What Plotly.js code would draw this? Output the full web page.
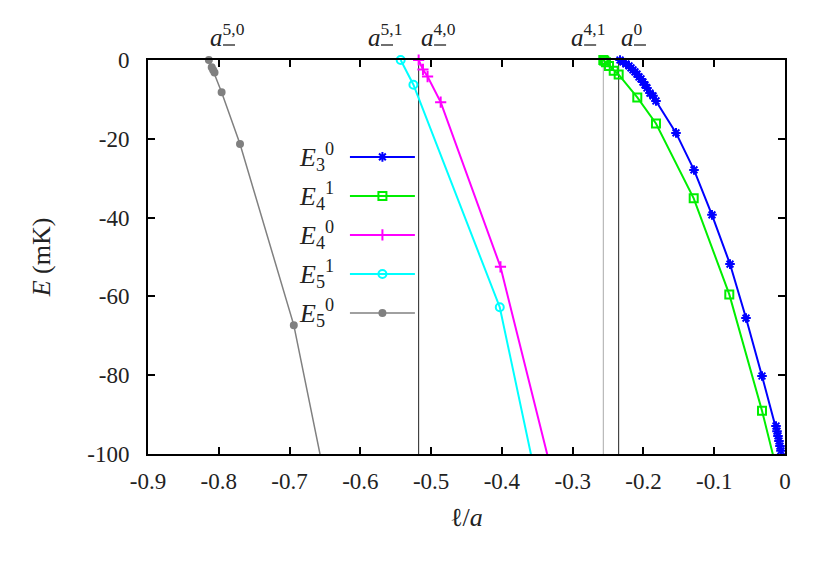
<!DOCTYPE html>
<html>
<head>
<meta charset="utf-8">
<script src="https://cdn.plot.ly/plotly-3.0.1.min.js"></script>
<style>html,body{margin:0;padding:0;background:#fff;}#chart{width:830px;height:566px;}</style>
</head>
<body>
<div id="chart"></div>
<script>
// ---- data ----
const e30_x = [-0.2331,-0.2288,-0.2247,-0.2204,-0.2176,-0.2148,-0.2120,-0.2091,-0.2063,-0.2035,-0.2007,-0.1978,-0.1950,-0.1908,-0.1865,-0.1823,-0.1540,-0.1286,-0.1032,-0.0777,-0.0551,-0.0325,-0.0127,-0.0113,-0.0099,-0.0085,-0.0071,-0.0057,-0.0042];
const e30_y = [0,-0.5,-1.0,-1.5,-2.0,-2.5,-3.0,-3.6,-4.3,-4.8,-5.6,-6.3,-7.1,-8.4,-9.1,-10.4,-18.5,-27.9,-39.3,-51.8,-65.5,-80.2,-92.9,-94.2,-95.4,-96.7,-98.0,-99.2,-100.5];

const e41_x = [-0.2567,-0.2553,-0.2530,-0.2487,-0.2420,-0.2350,-0.2087,-0.1823,-0.1290,-0.0787,-0.0325,0];
const e41_y = [0,-0.2,-0.6,-1.5,-2.7,-3.7,-9.5,-16.1,-35.1,-59.5,-89.0,-112.5];

const e40_x = [-0.5176,-0.5115,-0.5050,-0.4865,-0.4020,-0.2500];
const e40_y = [0,-2.4,-4.2,-10.7,-52.5,-162];

const e51_x = [-0.5430,-0.5250,-0.4030,-0.3000];
const e51_y = [0,-6.27,-62.75,-150];

const e50_x = [-0.814,-0.810,-0.808,-0.806,-0.796,-0.770,-0.694,-0.620];
const e50_y = [0,-1.85,-2.54,-3.2,-8.2,-21.3,-67.3,-132.7];

const thresholds = [-0.5176, -0.2567, -0.2350];
const thresholdColors = ['#222222', '#aaaaaa', '#222222'];

const seriesSub = ['3','4','4','5','5'];
const seriesSup = ['0','1','0','1','0'];
const seriesColors = ['#0000ff','#00ee00','#ff00ff','#00ffff','#808080'];
const seriesSymbols = ['asterisk-open','square-open','cross-thin-open','circle-open','circle'];
const seriesSizes = [8, 8, 8, 8, 6];
const seriesWidths = [2, 2, 2, 2, 1.5];

const topLabelSup = ['5,0','5,1','4,0','4,1','0'];

const xTickVals = [-0.9,-0.8,-0.7,-0.6,-0.5,-0.4,-0.3,-0.2,-0.1,0];
const xTickText = ['-0.9','-0.8','-0.7','-0.6','-0.5','-0.4','-0.3','-0.2','-0.1','0'];
const yTickVals = [-100,-80,-60,-40,-20,0];
const yTickText = ['-100','-80','-60','-40','-20','0'];

// ---- figure ----
const FONT = 'Liberation Serif, DejaVu Serif, serif';
const TXT = '#222';
const xs = [e30_x, e41_x, e40_x, e51_x, e50_x];
const ys = [e30_y, e41_y, e40_y, e51_y, e50_y];

const traces = [];
for (let i = 0; i < 5; i++) {
  traces.push({
    x: xs[i], y: ys[i], type: 'scatter', mode: 'lines+markers',
    cliponaxis: false, showlegend: false, hoverinfo: 'skip',
    line: {color: seriesColors[i], width: seriesWidths[i]},
    marker: {color: seriesColors[i], symbol: seriesSymbols[i], size: seriesSizes[i], line: {color: seriesColors[i], width: 2}}
  });
}
// custom legend (text on the left, sample on the right) drawn on a hidden overlay axis
const legY = [0.754, 0.655, 0.556, 0.457, 0.358];
const annotations = [];
for (let i = 0; i < 5; i++) {
  traces.push({
    x: [0.317, 0.419], y: [legY[i], legY[i]], xaxis: 'x2', yaxis: 'y2', type: 'scatter', mode: 'lines',
    showlegend: false, hoverinfo: 'skip', line: {color: seriesColors[i], width: seriesWidths[i]}
  });
  traces.push({
    x: [0.368], y: [legY[i]], xaxis: 'x2', yaxis: 'y2', type: 'scatter', mode: 'markers', cliponaxis: false,
    showlegend: false, hoverinfo: 'skip',
    marker: {color: seriesColors[i], symbol: seriesSymbols[i], size: seriesSizes[i], line: {color: seriesColors[i], width: 2}}
  });
  annotations.push({
    xref: 'paper', yref: 'paper', x: 0.295, y: legY[i], xanchor: 'right', yanchor: 'middle',
    text: '<i>E</i><sub>' + seriesSub[i] + '</sub><sup>' + seriesSup[i] + '</sup>', showarrow: false,
    font: {family: FONT, size: 26, color: TXT}
  });
}
// top threshold labels
const topLabelX = [-0.8152, -0.592, -0.517, -0.305, -0.2346];
const shapes = [];
for (let i = 0; i < 5; i++) {
  annotations.push({
    xref: 'x', yref: 'paper', x: topLabelX[i], y: 1, xanchor: 'left', yanchor: 'bottom', yshift: 7,
    text: '<i>a</i><sup>' + topLabelSup[i] + '</sup>', showarrow: false,
    font: {family: FONT, size: 25, color: TXT}
  });
  // subscript minus bar under the superscript
  shapes.push({
    type: 'line', xref: 'x', yref: 'paper', xsizemode: 'pixel', ysizemode: 'pixel',
    xanchor: topLabelX[i], yanchor: 1, x0: 15, x1: 27, y0: 15, y1: 15,
    line: {color: TXT, width: 1.3}
  });
}

thresholds.forEach((t, i) => shapes.push({
  type: 'line', xref: 'x', yref: 'paper', x0: t, x1: t, y0: 0, y1: 1,
  line: {color: thresholdColors[i], width: 1}, layer: 'below'
}));

const axisCommon = {
  showgrid: false, zeroline: false, showline: true, linecolor: '#000', linewidth: 2,
  mirror: 'ticks', ticks: 'inside', ticklen: 7, tickwidth: 2, tickcolor: '#000',
  tickfont: {family: FONT, size: 23, color: TXT}
};

const layout = {
  width: 830, height: 566,
  margin: {l: 148, r: 45, t: 60, b: 112},
  paper_bgcolor: '#fff', plot_bgcolor: '#fff',
  showlegend: false,
  xaxis: Object.assign({}, axisCommon, {
    range: [-0.9, 0], tickvals: xTickVals, ticktext: xTickText, ticklabelstandoff: 5,
    title: {text: 'ℓ/<i>a</i>', font: {family: FONT, size: 26, color: TXT}, standoff: 15}
  }),
  yaxis: Object.assign({}, axisCommon, {
    range: [-100, 0], tickvals: yTickVals, ticktext: yTickText, ticklabelstandoff: 12,
    title: {text: '<i>E</i> (mK)', font: {family: FONT, size: 26, color: TXT}, standoff: 29}
  }),
  xaxis2: {overlaying: 'x', range: [0, 1], visible: false, fixedrange: true},
  yaxis2: {overlaying: 'y', range: [0, 1], visible: false, fixedrange: true},
  annotations: annotations,
  shapes: shapes
};

Plotly.newPlot('chart', traces, layout, {staticPlot: true, displayModeBar: false});
</script>
</body>
</html>
